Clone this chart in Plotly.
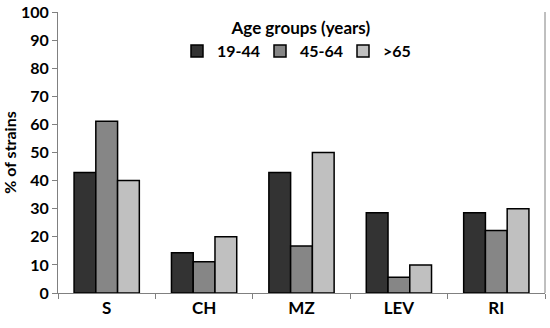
import plotly.graph_objects as go

categories = ["S", "CH", "MZ", "LEV", "RI"]
series_names = ["19-44", "45-64", ">65"]
vals_19_44 = [42.9, 14.3, 42.9, 28.6, 28.6]
vals_45_64 = [61.1, 11.1, 16.7, 5.6, 22.2]
vals_65 = [40.0, 20.0, 50.0, 10.0, 30.0]
colors = ["#333333", "#868686", "#c0c0c0"]
y_ticks = list(range(0, 101, 10))

FONT = "Lato"
fig = go.Figure()
for name, vals, col in zip(series_names, [vals_19_44, vals_45_64, vals_65], colors):
    fig.add_trace(go.Bar(
        x=categories, y=vals, name=name,
        marker=dict(color=col, line=dict(color="#000000", width=1.5)),
    ))

fig.update_layout(
    width=550, height=328,
    margin=dict(l=58, r=5, t=12, b=35, autoexpand=False),
    paper_bgcolor="white", plot_bgcolor="white",
    barmode="group", bargap=0.33, bargroupgap=0,
    font=dict(family=FONT, size=16, color="#000000", weight="bold"),
    showlegend=True,
    legend=dict(
        orientation="h", x=0.5, xanchor="center", y=1.0, yanchor="top",
        title=dict(text="Age groups (years)", side="top center",
                   font=dict(family=FONT, size=17, weight="bold")),
        font=dict(family=FONT, size=16, weight="bold"),
        itemwidth=30, entrywidth=38, bgcolor="rgba(0,0,0,0)", tracegroupgap=0,
    ),
    xaxis=dict(
        showline=True, linecolor="#808080", linewidth=1, automargin=False,
        ticks="outside", tickson="boundaries", ticklen=5, tickcolor="#808080",
        tickfont=dict(family=FONT, size=17, weight="bold"),
        showgrid=False, mirror=False,
    ),
    yaxis=dict(
        range=[0, 100], tickvals=y_ticks, automargin=False,
        showline=True, linecolor="#808080", linewidth=1,
        ticks="outside", ticklen=5, tickcolor="#808080",
        tickfont=dict(family=FONT, size=16, weight="bold"),
        showgrid=False, zeroline=False,
        title=dict(text="% of strains", font=dict(family=FONT, size=16, weight="bold"), standoff=4),
    ),
)
fig.add_shape(type="line", xref="paper", yref="paper", x0=1, x1=1, y0=0, y1=1,
              line=dict(color="#808080", width=1))
fig.write_html("out.html", config={"displayModeBar": False},
               post_script="document.body.style.margin='0';")
